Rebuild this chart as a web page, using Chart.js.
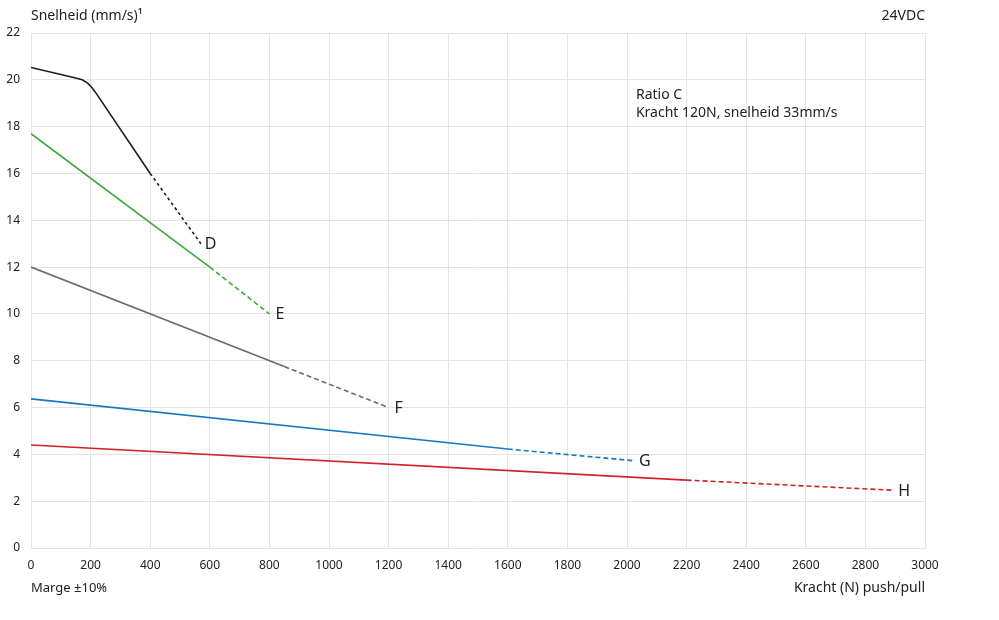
<!DOCTYPE html>
<html>
<head>
<meta charset="utf-8">
<script src="https://cdn.jsdelivr.net/npm/chart.js@4.4.0/dist/chart.umd.min.js"></script>
<style>
  html,body{margin:0;padding:0;background:#fff;}
  #wrap{position:relative;width:999px;height:620px;}
</style>
</head>
<body>
<div id="wrap"><canvas id="c" width="999" height="620"></canvas></div>
<script>
// ---- data ----
const seriesNames = ['D', 'E', 'F', 'G', 'H'];
const forceD = [0, 150, 172, 190, 205, 220, 400, 570];
const speedD = [20.53, 20.08, 20.0, 19.86, 19.66, 19.4, 16.0, 13.0];
const forceE = [0, 600, 800];
const speedE = [17.7, 12.0, 10.0];
const forceF = [0, 850, 1200];
const speedF = [12.0, 7.75, 6.0];
const forceG = [0, 1600, 2020];
const speedG = [6.37, 4.23, 3.73];
const forceH = [0, 2200, 2890];
const speedH = [4.4, 2.9, 2.47];
// force from which each curve becomes dashed
const dashFrom = [400, 600, 850, 1600, 2200];
const xTicks = [0,200,400,600,800,1000,1200,1400,1600,1800,2000,2200,2400,2600,2800,3000];
const yTicks = [0,2,4,6,8,10,12,14,16,18,20,22];

const colors = ['#1c1c1c', '#3aa935', '#6b6b6b', '#1878c6', '#d42027'];
const dashes = [[3,3],[5,3],[5,3],[5,3],[5,3]];
const forces = [forceD, forceE, forceF, forceG, forceH];
const speeds = [speedD, speedE, speedF, speedG, speedH];

const FONT = "'Noto Sans', 'DejaVu Sans', sans-serif";
const TXT = '#222';

const datasets = seriesNames.map((n, i) => ({
  label: n,
  data: forces[i].map((f, k) => ({x: f, y: speeds[i][k]})),
  borderColor: colors[i],
  backgroundColor: colors[i],
  borderWidth: 1.6,
  pointRadius: 0,
  pointHoverRadius: 0,
  fill: false,
  showLine: true,
  tension: 0,
  segment: {
    borderDash: ctx => ctx.p0.parsed.x >= dashFrom[i] - 0.001 ? dashes[i] : undefined
  }
}));

const annot = {
  id: 'annot',
  afterDatasetsDraw(chart) {
    const ctx = chart.ctx;
    ctx.save();
    ctx.fillStyle = TXT;
    ctx.textBaseline = 'middle';
    ctx.textAlign = 'left';
    ctx.font = "16px " + FONT;
    chart.data.datasets.forEach((ds, i) => {
      const meta = chart.getDatasetMeta(i);
      const last = meta.data[meta.data.length - 1];
      ctx.fillText(ds.label, last.x + (i === 0 ? 4 : 6), last.y + 1);
    });
    const xs = chart.scales.x, ys = chart.scales.y;
    ctx.font = "14px " + FONT;
    ctx.fillText('Ratio C', xs.getPixelForValue(2030), ys.getPixelForValue(19.35));
    ctx.fillText('Kracht 120N, snelheid 33mm/s', xs.getPixelForValue(2030), ys.getPixelForValue(18.6));
    // axis captions
    const a = chart.chartArea;
    ctx.font = "14px " + FONT;
    ctx.textAlign = 'left';
    ctx.fillText('Snelheid (mm/s)¹', a.left, 16);
    ctx.font = "13px " + FONT;
    ctx.fillText('Marge ±10%', a.left, 588);
    ctx.font = "14px " + FONT;
    ctx.textAlign = 'right';
    ctx.fillText('24VDC', a.right, 16);
    ctx.fillText('Kracht (N) push/pull', a.right, 588);
    ctx.restore();
  }
};

new Chart(document.getElementById('c'), {
  type: 'scatter',
  data: { datasets },
  options: {
    responsive: false,
    animation: false,
    events: [],
    layout: { padding: { left: 0, right: 74, top: 33, bottom: 0 } },
    plugins: { legend: { display: false }, tooltip: { enabled: false }, title: { display: false } },
    scales: {
      x: {
        type: 'linear', min: 0, max: 3000,
        afterBuildTicks: s => { s.ticks = xTicks.map(v => ({value: v})); },
        afterFit: s => { s.height = 72; },
        grid: { color: '#e4e4e4', lineWidth: 1, drawTicks: false },
        border: { display: true, color: '#e4e4e4' },
        ticks: { color: TXT, font: { family: FONT, size: 12 }, padding: 10, maxRotation: 0, autoSkip: false,
                 callback: v => String(v) }
      },
      y: {
        type: 'linear', min: 0, max: 22,
        afterBuildTicks: s => { s.ticks = yTicks.map(v => ({value: v})); },
        afterFit: s => { s.width = 31; },
        grid: { color: '#e4e4e4', lineWidth: 1, drawTicks: false },
        border: { display: true, color: '#e4e4e4' },
        ticks: { color: TXT, font: { family: FONT, size: 12 }, padding: 11, autoSkip: false,
                 callback: v => String(v) }
      }
    }
  },
  plugins: [annot]
});
</script>
</body>
</html>
